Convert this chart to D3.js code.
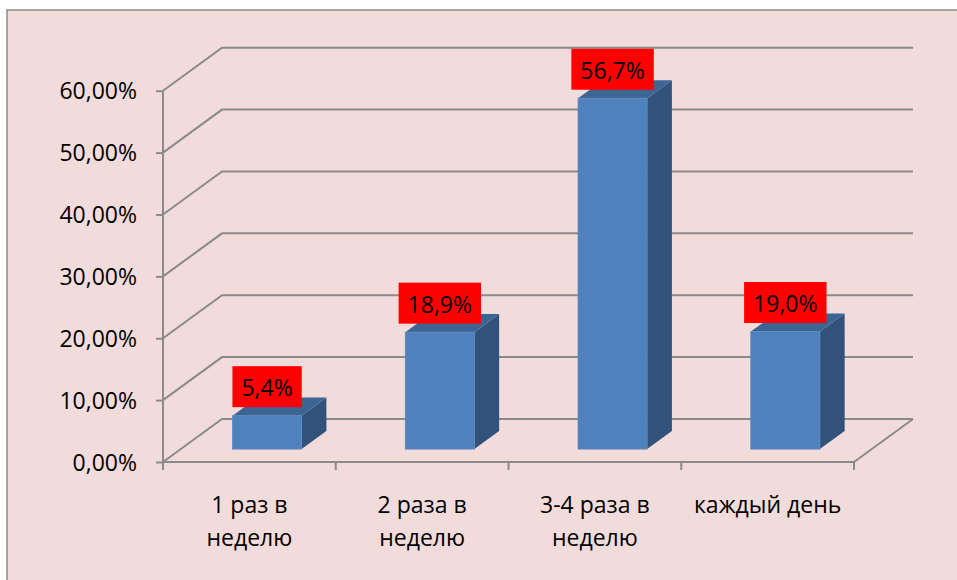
<!DOCTYPE html>
<html>
<head>
<meta charset="utf-8">
<script src="https://cdn.jsdelivr.net/npm/d3@7/dist/d3.min.js"></script>
<style>
  html, body { margin: 0; padding: 0; background: #ffffff; }
  svg { display: block; }
  text { font-family: "Open Sans", "Noto Sans", sans-serif; fill: #000; }
</style>
</head>
<body>
<svg id="chart" width="957" height="580"></svg>
<script>
// ---- data ----
const categories = ["1 раз в неделю", "2 раза в неделю", "3-4 раза в неделю", "каждый день"];
const values = [0.054, 0.189, 0.567, 0.190];
const yTicks = [0, 0.1, 0.2, 0.3, 0.4, 0.5, 0.6];

// ---- layout ----
const W = 957, H = 580;
const svg = d3.select("#chart");
const ruLocale = d3.formatLocale({ decimal: ",", thousands: " ", grouping: [3], currency: ["", " ₽"] });
const fmtAxis = ruLocale.format(".2%");
const fmtLabel = ruLocale.format(".1%");

const frontX0 = 163, frontX1 = 854;
const y0 = 462, yTop = 90.7;
const ox = 59, oy = -43;          // depth offset of the back wall
const t0 = 0.30, t1 = 0.72;       // bar depth (front/back) as fraction of depth
const gridColor = "#8a8a8a";

const x = d3.scaleBand().domain(categories).range([frontX0, frontX1]).padding(0);
const y = d3.scaleLinear().domain([0, 0.6]).range([y0, yTop]);

// background
svg.append("rect").attr("x", 7).attr("y", 10).attr("width", W).attr("height", H)
  .attr("fill", "#f2dcdb").attr("stroke", "#8c8c8c").attr("stroke-width", 1.5);

// back wall + left wall gridlines
const grid = svg.append("g").attr("fill", "none").attr("stroke", gridColor).attr("stroke-width", 2);
grid.selectAll("path.grid").data(yTicks).join("path").attr("class", "grid")
  .attr("d", v => `M${frontX0},${y(v)} L${frontX0 + ox},${y(v) + oy} L${frontX1 + ox},${y(v) + oy}`);
// floor right edge
grid.append("path").attr("d", `M${frontX1},${y0} L${frontX1 + ox},${y0 + oy}`);

// bars
const bw = x.bandwidth();
const barW = bw * 0.4;
const dx = ox * (t1 - t0), dy = oy * (t1 - t0);
const bars = svg.append("g").selectAll("g.bar").data(categories.map((c, i) => ({ c, v: values[i] })))
  .join("g").attr("class", "bar");
bars.each(function (d) {
  const g = d3.select(this);
  const xl = x(d.c) + (bw - barW) / 2 + ox * t0;
  const xr = xl + barW;
  const yt = y(d.v) + oy * t0;
  const yb = y(0) + oy * t0;
  g.append("path").attr("fill", "#31527a")
    .attr("d", `M${xr},${yt} L${xr + dx},${yt + dy} L${xr + dx},${yb + dy} L${xr},${yb} Z`);
  g.append("path").attr("fill", "#3d6594")
    .attr("d", `M${xl},${yt} L${xr},${yt} L${xr + dx},${yt + dy} L${xl + dx},${yt + dy} Z`);
  g.append("rect").attr("x", xl).attr("y", yt).attr("width", barW).attr("height", yb - yt)
    .attr("fill", "#4f81bd").attr("stroke", "#5a8ac4").attr("stroke-width", 0.8);
  // data label
  const lbl = g.append("g");
  const txt = lbl.append("text").attr("x", (xl + xr) / 2).attr("y", yt - 8.5 - 11)
    .attr("text-anchor", "middle").attr("font-size", 23).text(fmtLabel(d.v));
  const tw = txt.node().getComputedTextLength();
  lbl.insert("rect", "text").attr("x", (xl + xr) / 2 - tw / 2 - 9).attr("y", yt - 8.5 - 41)
    .attr("width", tw + 18).attr("height", 41).attr("fill", "#ff0000");
});

// front y axis
const yAxis = d3.axisLeft(y).tickValues(yTicks).tickFormat(fmtAxis).tickSize(7).tickPadding(19);
const ya = svg.append("g").attr("transform", `translate(${frontX0},0)`).call(yAxis);
ya.select(".domain").remove();
ya.selectAll(".tick line").attr("stroke", gridColor).attr("stroke-width", 2);
ya.selectAll(".tick text").attr("font-size", 23).attr("dy", "0.36em")
  .style("font-family", '"Open Sans", sans-serif').attr("fill", "#000");
svg.append("line").attr("x1", frontX0).attr("x2", frontX0).attr("y1", y(0.6)).attr("y2", y0)
  .attr("stroke", gridColor).attr("stroke-width", 2);

// front floor line + category ticks
svg.append("line").attr("x1", frontX0).attr("x2", frontX1).attr("y1", y0).attr("y2", y0)
  .attr("stroke", gridColor).attr("stroke-width", 2);
const edges = categories.map(c => x(c)).concat([x.range()[1]]);
svg.append("g").selectAll("line").data(edges).join("line")
  .attr("x1", d => d).attr("x2", d => d).attr("y1", y0).attr("y2", y0 + 8)
  .attr("stroke", gridColor).attr("stroke-width", 2);

// category labels (wrapped)
const catG = svg.append("g");
categories.forEach(c => {
  const cx = x(c) + bw / 2;
  const t = catG.append("text").attr("x", cx).attr("y", y0 + 51).attr("text-anchor", "middle")
    .attr("font-size", 23);
  const words = c.split(" ");
  let lines = [], cur = [];
  const probe = catG.append("text").attr("font-size", 23);
  words.forEach(w => {
    const test = cur.concat([w]).join(" ");
    probe.text(test);
    if (cur.length && probe.node().getComputedTextLength() > 158) { lines.push(cur.join(" ")); cur = [w]; }
    else cur.push(w);
  });
  lines.push(cur.join(" "));
  probe.remove();
  lines.forEach((l, i) => {
    t.append("tspan").attr("x", cx).attr("dy", i === 0 ? 0 : 33).text(l);
  });
});
</script>
</body>
</html>
